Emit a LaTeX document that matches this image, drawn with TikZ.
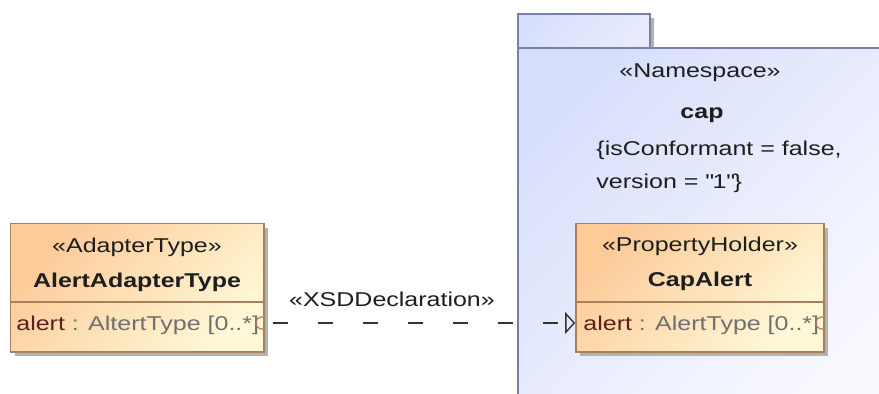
\documentclass[tikz,border=0pt]{standalone}
\usepackage{fontspec}
\setmainfont{Liberation Sans}[FakeStretch=1.25]
\usetikzlibrary{positioning,arrows.meta,shadows}

\definecolor{clsTop}{RGB}{253,202,152}
\definecolor{clsBot}{RGB}{255,248,214}
\definecolor{clsLine}{RGB}{168,128,92}
\definecolor{pkgTop}{RGB}{216,223,251}
\definecolor{pkgBot}{RGB}{248,249,255}
\definecolor{pkgLine}{RGB}{118,128,168}
\definecolor{attrName}{RGB}{92,30,30}
\definecolor{attrType}{RGB}{112,112,112}
\definecolor{iconCol}{RGB}{176,128,88}
\definecolor{txtDark}{RGB}{30,30,30}

\newcommand{\umlsize}{\fontsize{10}{12}\selectfont}

\begin{document}
\begin{tikzpicture}[x=0.5pt, y=-0.5pt,
  shad/.style={drop shadow={shadow xshift=2.2pt, shadow yshift=-2.2pt,
               fill=black!30, opacity=1}},
  pkgtab/.style={draw=pkgLine, line width=1pt, rectangle, shad,
                 left color=pkgTop, right color=pkgBot!50!pkgTop, shading angle=45,
                 minimum width=66.25pt, minimum height=17pt},
  pkgbody/.style={draw=pkgLine, line width=1pt, rectangle,
                  left color=pkgTop, right color=pkgBot, shading angle=45,
                  minimum width=190pt, minimum height=180pt},
  cls/.style={draw=clsLine, line width=0.9pt, rectangle, shad,
              left color=clsTop, right color=clsBot, shading angle=45,
              minimum height=64.25pt},
  sepline/.style={draw=clsLine, line width=0.9pt},
  txt/.style={inner sep=0pt, anchor=base, font=\umlsize, text=txtDark},
  stereo/.style={txt},
  cname/.style={txt, font=\umlsize\bfseries},
  attr/.style={txt, anchor=base west, text=attrType},
  tagtxt/.style={txt, anchor=base west},
  attricon/.style={draw=iconCol, line width=0.6pt},
  dep/.style={draw=black!80, line width=0.7pt, dash pattern=on 7.5pt off 15pt,
              -{Triangle[open, length=5pt, width=11pt]}},
  deplbl/.style={txt}
]
\useasboundingbox (0,0) rectangle (879,393);

%% package cap
\node[pkgtab]  (capTab) at (583.75, 30.5)   {};
\node[pkgbody] (capPkg) at (707.5, 227.5)   {};
\node[stereo] (capStereo) at (700, 77.3)  {«Namespace»};
\node[cname]  (capName)   at (702, 118)   {cap};
\node[tagtxt] (capTag1)   at (596, 155)   {\{isConformant = false,};
\node[tagtxt] (capTag2)   at (596, 188.5) {version = \textquotedbl 1\textquotedbl\}};

%% classes
\node[cls, minimum width=126.75pt] (adapter)  at (137.25, 287.75) {};
\node[cls, minimum width=124pt]    (capAlert) at (700, 287.75)    {};
\draw[sepline] ([yshift=-39.75pt]adapter.north west) -- ([yshift=-39.75pt]adapter.north east);
\draw[sepline] ([yshift=-39.75pt]capAlert.north west) -- ([yshift=-39.75pt]capAlert.north east);

\node[stereo] (adStereo) at (137, 252)   {«AdapterType»};
\node[cname]  (adName)   at (137, 287.5) {AlertAdapterType};
\node[attr]   (adAttr)   at (16, 330.5)  {\textcolor{attrName}{alert} : AltertType [0..*]};
\draw[attricon] (263,317) -- (261,317) arc[start angle=90, end angle=270, x radius=2.5pt, y radius=3pt] -- (263,329);

\node[stereo] (caStereo) at (700, 251.7) {«PropertyHolder»};
\node[cname]  (caName)   at (700, 286.7) {CapAlert};
\node[attr]   (caAttr)   at (583, 330)   {\textcolor{attrName}{alert} : AlertType [0..*]};
\draw[attricon] (823,317) -- (821,317) arc[start angle=90, end angle=270, x radius=2.5pt, y radius=3pt] -- (823,329);

%% dependency
\coordinate (adSrc) at (273, 323);
\draw[dep] (adSrc) -- (capAlert.west |- adSrc);
\node[deplbl] (depLbl) at (392, 306.7) {«XSDDeclaration»};

\end{tikzpicture}
\end{document}
